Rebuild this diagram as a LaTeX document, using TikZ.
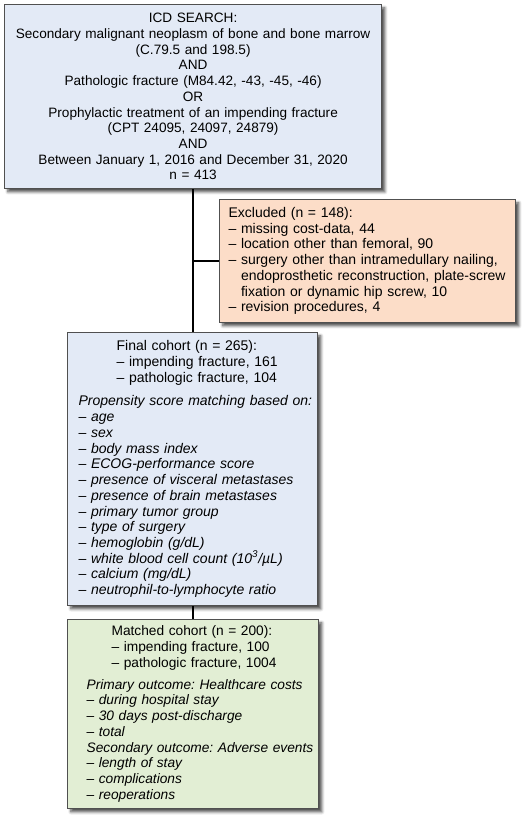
\documentclass[tikz,border=0pt]{standalone}
\usepackage{fontspec}
\setmainfont{Liberation Sans}
\usetikzlibrary{shadows.blur}
\newcommand{\PX}{0.75pt}
\newcommand{\HDI}{28.5pt}
\newcommand{\HDII}{18.75pt}
\definecolor{fcsearch}{RGB}{227,234,246}
\definecolor{fcexcl}{RGB}{252,221,200}
\definecolor{fcmatch}{RGB}{226,238,212}
\definecolor{fcedge}{RGB}{80,80,80}

\begin{document}
\begin{tikzpicture}[
    x=\PX, y=-\PX,
    box/.style={draw=fcedge, line width=0.9pt, anchor=north west, inner ysep=0pt,
      font=\fontsize{10.5}{11.8}\selectfont\frenchspacing,
      blur shadow={shadow xshift=2.5pt, shadow yshift=-2.5pt, shadow blur steps=6, shadow opacity=70}},
    link/.style={draw=black, line width=1.5pt},
  ]
  \useasboundingbox (0,0) rectangle (527,821);

  %% ================= search criteria =================
  \node[box, fill=fcsearch, align=center, inner xsep=3pt, text width=276.75pt,
        font=\fontsize{10.2}{11.8}\selectfont\frenchspacing,
        minimum width=282.75pt, minimum height=138pt] (search) at (4,4) {%
    ICD SEARCH:\\
    Secondary malignant neoplasm of bone and bone marrow\\
    (C.79.5 and 198.5)\\
    AND\\
    Pathologic fracture (M84.42, -43, -45, -46)\\
    OR\\
    Prophylactic treatment of an impending fracture\\
    (CPT 24095, 24097, 24879)\\
    AND\\
    Between January 1, 2016 and December 31, 2020\\
    n = 413};

  %% ================= exclusions =================
  \node[box, fill=fcexcl, align=left, inner xsep=3pt, text width=216pt,
        minimum width=222pt, minimum height=92.25pt] (excluded) at (219,199) {%
    \leftskip=3.75pt
    Excluded (n = 148):\\
    – missing cost-data, 44\\
    – location other than femoral, 90\\
    – surgery other than intramedullary nailing,\\
    \phantom{– }endoprosthetic reconstruction, plate-screw\\
    \phantom{– }fixation or dynamic hip screw, 10\\
    – revision procedures, 4\par};

  %% ================= final cohort =================
  \node[box, fill=fcsearch, align=left, inner xsep=3pt, text width=181.5pt,
        minimum width=187.5pt, minimum height=204.75pt] (final) at (67,332) {%
    \leftskip=5.25pt
    \hspace*{\HDI}Final cohort (n = 265):\\
    \hspace*{\HDI}– impending fracture, 161\\
    \hspace*{\HDI}– pathologic fracture, 104\\[6pt]
    \itshape Propensity score matching based on:\\
    – age\\
    – sex\\
    – body mass index\\
    – ECOG-performance score\\
    – presence of visceral metastases\\
    – presence of brain metastases\\
    – primary tumor group\\
    – type of surgery\\
    – hemoglobin (g/dL)\\
    – white blood cell count (10\textsuperscript{3}/µL)\\
    – calcium (mg/dL)\\
    – neutrophil-to-lymphocyte ratio\par};

  %% ================= matched cohort =================
  \node[box, fill=fcmatch, align=left, inner xsep=1pt, text width=186.25pt,
        font=\fontsize{10.3}{11.8}\selectfont\frenchspacing,
        minimum width=188.25pt, minimum height=141.75pt] (matched) at (67,619) {%
    \leftskip=13.25pt
    \hspace*{\HDII}Matched cohort (n = 200):\\
    \hspace*{\HDII}– impending fracture, 100\\
    \hspace*{\HDII}– pathologic fracture, 1004\\[4.5pt]
    \itshape Primary outcome: Healthcare costs\\
    – during hospital stay\\
    – 30 days post-discharge\\
    – total\\
    Secondary outcome: Adverse events\\
    – length of stay\\
    – complications\\
    – reoperations\par};

  % trunk and side branch
  \coordinate (branch) at (search.south |- excluded.west);
  \draw[link] (search.south) -- (search.south |- final.north);
  \draw[link] (branch) -- (excluded.west);
  \draw[link] (final.south) -- (final.south |- matched.north);

\end{tikzpicture}
\end{document}
